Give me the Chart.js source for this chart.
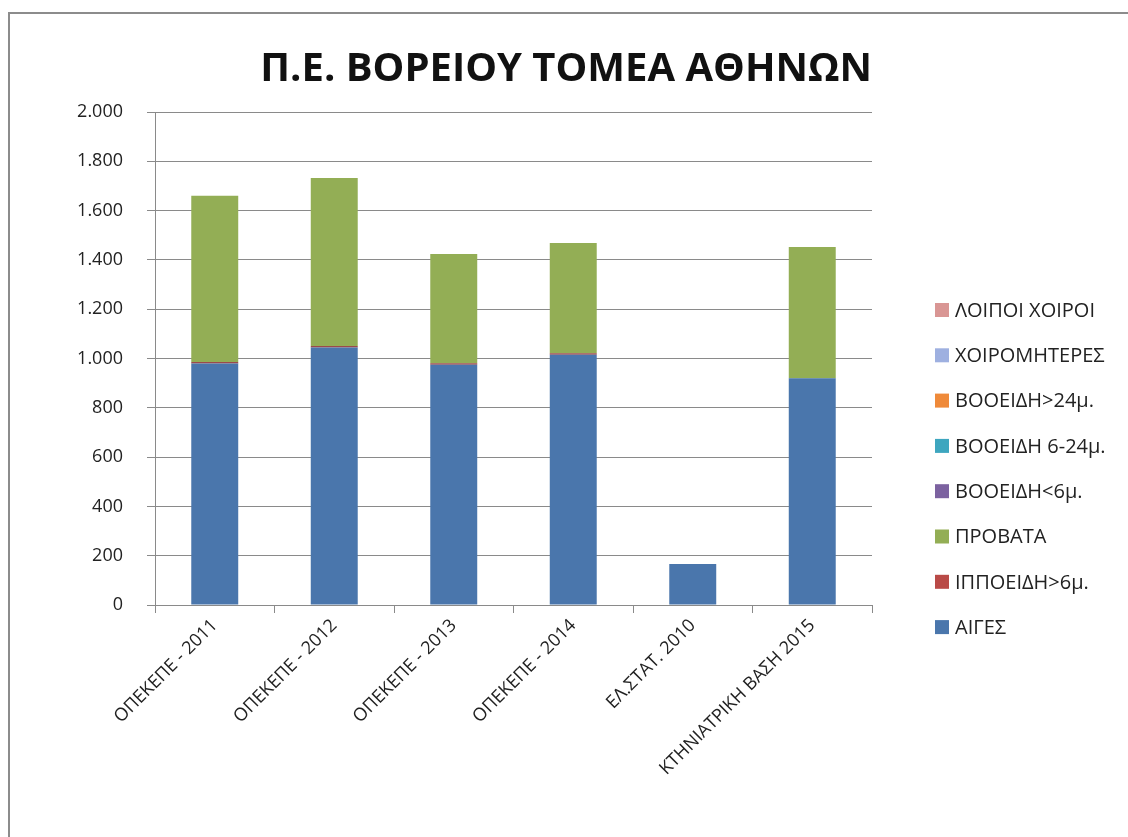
<!DOCTYPE html>
<html>
<head>
<meta charset="utf-8">
<script src="https://cdn.jsdelivr.net/npm/chart.js@4/dist/chart.umd.min.js"></script>
<style>
  html, body { margin: 0; padding: 0; background: #fff; overflow: hidden; }
  #wrap { position: relative; width: 1128px; height: 837px; }
  #frame {
    position: absolute; left: 8px; top: 12px; width: 1200px; height: 900px;
    border-top: 2px solid #8c8c8c; border-left: 2px solid #8c8c8c;
  }
  canvas { position: absolute; left: 0; top: 0; }
</style>
</head>
<body>
<div id="wrap">
  <div id="frame"></div>
  <canvas id="chart" width="1128" height="837"></canvas>
</div>
<script>
const title = 'Π.Ε. ΒΟΡΕΙΟΥ ΤΟΜΕΑ ΑΘΗΝΩΝ';
const categories = ['ΟΠΕΚΕΠΕ - 2011', 'ΟΠΕΚΕΠΕ - 2012', 'ΟΠΕΚΕΠΕ - 2013', 'ΟΠΕΚΕΠΕ - 2014', 'ΕΛ.ΣΤΑΤ. 2010', 'ΚΤΗΝΙΑΤΡΙΚΗ ΒΑΣΗ 2015'];
const yTicks = [0, 200, 400, 600, 800, 1000, 1200, 1400, 1600, 1800, 2000];

// series, in stacking order (bottom first)
const aiges       = [980, 1045, 975, 1015, 166, 920];
const ippoeidi    = [6, 6, 6, 6, 0, 0];
const provata     = [674, 681, 443, 448, 0, 532];
const vooeidiLt6  = [0, 0, 0, 0, 0, 0];
const vooeidi624  = [0, 0, 0, 0, 0, 0];
const vooeidiGt24 = [0, 0, 0, 0, 0, 0];
const xoiromiteres = [0, 0, 0, 0, 0, 0];
const loipoiXoiroi = [0, 0, 0, 0, 0, 0];

const seriesNames = ['ΑΙΓΕΣ', 'ΙΠΠΟΕΙΔΗ>6μ.', 'ΠΡΟΒΑΤΑ', 'ΒΟΟΕΙΔΗ<6μ.', 'ΒΟΟΕΙΔΗ 6-24μ.', 'ΒΟΟΕΙΔΗ>24μ.', 'ΧΟΙΡΟΜΗΤΕΡΕΣ', 'ΛΟΙΠΟΙ ΧΟΙΡΟΙ'];
const seriesValues = [aiges, ippoeidi, provata, vooeidiLt6, vooeidi624, vooeidiGt24, xoiromiteres, loipoiXoiroi];
const seriesColors = ['#4a76ac', '#9a4a4a', '#93ae55', '#7c62a0', '#3ea6bf', '#ef8a3a', '#9eb0e0', '#d99694'];
const legendColors = ['#4a76ac', '#b94a47', '#93ae55', '#7c62a0', '#3ea6bf', '#ef8a3a', '#9eb0e0', '#d99694'];

const FONT = "'Open Sans', 'Noto Sans', sans-serif";

const fmt = v => String(v).replace(/\B(?=(\d{3})+(?!\d))/g, '.');

// legend drawn on the right, reversed like Excel
const sideLegend = {
  id: 'sideLegend',
  afterDraw(chart) {
    const ctx = chart.ctx;
    const ds = chart.data.datasets;
    ctx.save();
    ctx.font = '20px ' + FONT;
    ctx.textBaseline = 'middle';
    ctx.textAlign = 'left';
    let y = 310;
    for (let i = ds.length - 1; i >= 0; i--) {
      ctx.fillStyle = legendColors[i];
      ctx.fillRect(935, y - 7, 14, 14);
      ctx.fillStyle = '#222';
      ctx.fillText(ds[i].label, 955, y + 1);
      y += 45.3;
    }
    ctx.restore();
  }
};

const datasets = seriesNames.map((name, i) => ({
  label: name,
  data: seriesValues[i],
  backgroundColor: seriesColors[i],
  borderWidth: 0,
  barPercentage: 0.393,
  categoryPercentage: 1.0
}));

new Chart(document.getElementById('chart'), {
  type: 'bar',
  data: { labels: categories, datasets },
  options: {
    responsive: false,
    animation: false,
    layout: { padding: { left: 0, right: 256, top: 0, bottom: 0 } },
    plugins: {
      legend: { display: false },
      tooltip: { enabled: false },
      title: {
        display: true,
        text: title,
        align: 'end',
        color: '#111',
        font: { family: FONT, size: 40, weight: 'bold' },
        padding: { top: 46, bottom: 18 }
      }
    },
    scales: {
      x: {
        stacked: true,
        grid: { offset: true, drawOnChartArea: false, tickLength: 8, color: '#8a8a8a' },
        border: { color: '#8a8a8a' },
        ticks: {
          autoSkip: false, minRotation: 45, maxRotation: 45, padding: 2,
          color: '#222', font: { family: FONT, size: 18 }
        },
        afterFit: s => { s.height = 232; }
      },
      y: {
        stacked: true,
        min: 0, max: 2000,
        afterBuildTicks: s => { s.ticks = yTicks.map(v => ({ value: v })); },
        grid: { color: '#8a8a8a', tickLength: 8 },
        border: { color: '#8a8a8a' },
        ticks: {
          padding: 24, color: '#222', font: { family: FONT, size: 18 },
          callback: v => fmt(v)
        },
        afterFit: s => { s.width = 155; }
      }
    }
  },
  plugins: [sideLegend]
});
</script>
</body>
</html>
